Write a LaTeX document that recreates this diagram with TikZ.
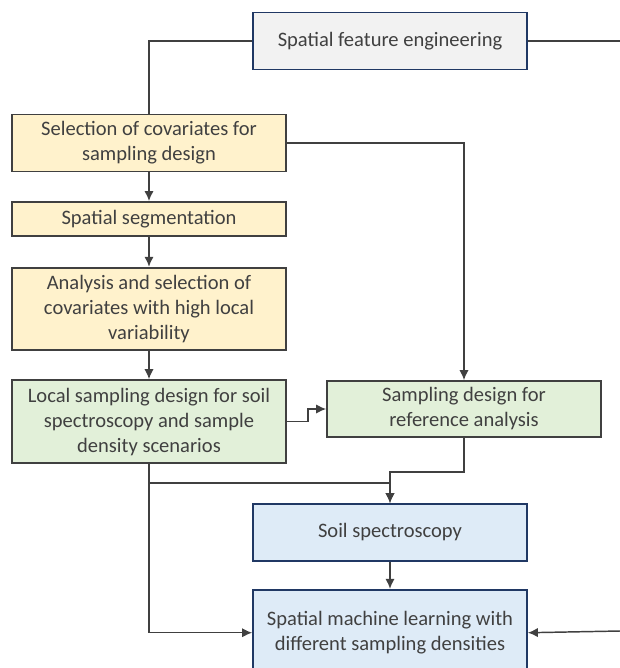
\documentclass[tikz,border=0pt]{standalone}
\usepackage{fontspec}
\setmainfont{Carlito}
\usepackage{xcolor}
\usetikzlibrary{arrows.meta,positioning,calc}

\definecolor{featfill}{HTML}{F2F2F2}
\definecolor{prepfill}{HTML}{FFF2CC}
\definecolor{designfill}{HTML}{E2F0D9}
\definecolor{modelfill}{HTML}{DEEBF7}
\definecolor{navyline}{HTML}{203864}
\definecolor{grayline}{HTML}{404040}

\begin{document}
\begin{tikzpicture}[x=0.75pt, y=-0.75pt,
  base/.style={rectangle, draw, line width=1.3pt, minimum width=205.5pt, align=center, text=grayline, font=\fontsize{15.4}{18.75}\selectfont},
  feat/.style={base, fill=featfill, draw=navyline},
  prep/.style={base, fill=prepfill, draw=grayline},
  design/.style={base, fill=designfill, draw=grayline},
  model/.style={base, fill=modelfill, draw=navyline},
  conn/.style={line width=1.1pt, draw=grayline},
  arrow/.style={conn, -{Latex[length=7.5pt,width=7pt]}}
]
\useasboundingbox (0,0) rectangle (620,668);

\node[feat, minimum height=42.75pt] (feat) at (390,41) {Spatial feature engineering};

% left column
\node[prep, minimum height=42.75pt] (sel) at (149,143) {Selection of covariates for\\sampling design};
\node[prep, minimum height=25.5pt] (seg) [below=21.5pt of sel] {Spatial segmentation};
\node[prep, minimum height=61.5pt] (ana) [below=22.5pt of seg] {Analysis and selection of\\covariates with high local\\variability};
\node[design, minimum height=62.25pt] (loc) [below=21.5pt of ana] {Local sampling design for soil\\spectroscopy and sample\\density scenarios};

% right column
\node[design, minimum height=42pt] (ref) at (464,409) {Sampling design for\\reference analysis};
\node[model, minimum height=42.75pt] (spec) at (390,532.5) {Soil spectroscopy};
\node[model, minimum height=64.5pt] (ml) [below=20.25pt of spec] {Spatial machine learning with\\different sampling densities};

\coordinate (outtop) at (620,41);
\coordinate (outml) at (620,631);

\draw[conn] (feat.west) -| (sel.north);
\draw[conn] (feat.east) -- (outtop);
\draw[arrow] (sel) -- (seg);
\draw[arrow] (seg) -- (ana);
\draw[arrow] (ana) -- (loc);
\draw[arrow] (sel.east) -| (ref.north);
\draw[arrow] (loc.east) -- ++(21,0) |- (ref.west);
\draw[arrow] (ref.south) -- ++(0,34) -| (spec.north);
\draw[arrow] ($(loc.south)+(0,19)$) -| (spec.north);
\draw[arrow] (loc.south) |- (ml.west);
\draw[arrow] (spec) -- (ml);
\draw[arrow] (outml) -- (ml.east);

\end{tikzpicture}
\end{document}
